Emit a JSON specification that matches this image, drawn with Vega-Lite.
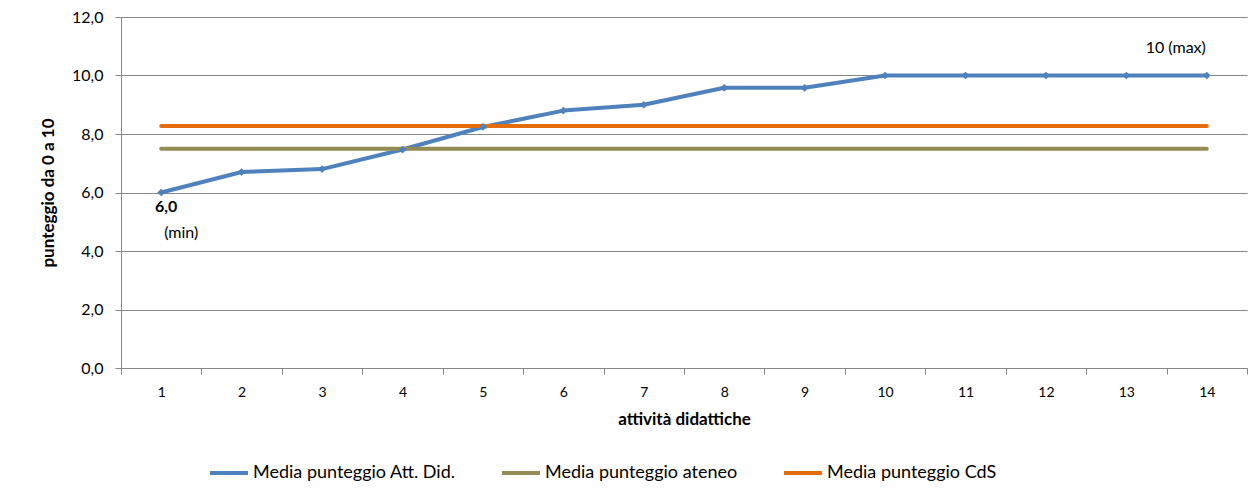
{
  "$schema": "https://vega.github.io/schema/vega-lite/v6.json",
  "width": 1126,
  "height": 351,
  "autosize": "none",
  "padding": {"left": 121, "top": 17, "right": 4, "bottom": 136},
  "background": "white",
  "config": {
    "font": "Lato",
    "view": {"stroke": null},
    "axis": {"labelFont": "Lato", "titleFont": "Lato", "labelColor": "#000000", "titleColor": "#000000"}
  },
  "datasets": {
    "series": [
      {"cat": 1, "serie": "Media punteggio Att. Did.", "value": 6.0},
      {"cat": 2, "serie": "Media punteggio Att. Did.", "value": 6.7},
      {"cat": 3, "serie": "Media punteggio Att. Did.", "value": 6.8},
      {"cat": 4, "serie": "Media punteggio Att. Did.", "value": 7.47},
      {"cat": 5, "serie": "Media punteggio Att. Did.", "value": 8.24},
      {"cat": 6, "serie": "Media punteggio Att. Did.", "value": 8.8},
      {"cat": 7, "serie": "Media punteggio Att. Did.", "value": 9.0},
      {"cat": 8, "serie": "Media punteggio Att. Did.", "value": 9.58},
      {"cat": 9, "serie": "Media punteggio Att. Did.", "value": 9.58},
      {"cat": 10, "serie": "Media punteggio Att. Did.", "value": 10.0},
      {"cat": 11, "serie": "Media punteggio Att. Did.", "value": 10.0},
      {"cat": 12, "serie": "Media punteggio Att. Did.", "value": 10.0},
      {"cat": 13, "serie": "Media punteggio Att. Did.", "value": 10.0},
      {"cat": 14, "serie": "Media punteggio Att. Did.", "value": 10.0},
      {"cat": 1, "serie": "Media punteggio ateneo", "value": 7.5},
      {"cat": 2, "serie": "Media punteggio ateneo", "value": 7.5},
      {"cat": 3, "serie": "Media punteggio ateneo", "value": 7.5},
      {"cat": 4, "serie": "Media punteggio ateneo", "value": 7.5},
      {"cat": 5, "serie": "Media punteggio ateneo", "value": 7.5},
      {"cat": 6, "serie": "Media punteggio ateneo", "value": 7.5},
      {"cat": 7, "serie": "Media punteggio ateneo", "value": 7.5},
      {"cat": 8, "serie": "Media punteggio ateneo", "value": 7.5},
      {"cat": 9, "serie": "Media punteggio ateneo", "value": 7.5},
      {"cat": 10, "serie": "Media punteggio ateneo", "value": 7.5},
      {"cat": 11, "serie": "Media punteggio ateneo", "value": 7.5},
      {"cat": 12, "serie": "Media punteggio ateneo", "value": 7.5},
      {"cat": 13, "serie": "Media punteggio ateneo", "value": 7.5},
      {"cat": 14, "serie": "Media punteggio ateneo", "value": 7.5},
      {"cat": 1, "serie": "Media punteggio CdS", "value": 8.27},
      {"cat": 2, "serie": "Media punteggio CdS", "value": 8.27},
      {"cat": 3, "serie": "Media punteggio CdS", "value": 8.27},
      {"cat": 4, "serie": "Media punteggio CdS", "value": 8.27},
      {"cat": 5, "serie": "Media punteggio CdS", "value": 8.27},
      {"cat": 6, "serie": "Media punteggio CdS", "value": 8.27},
      {"cat": 7, "serie": "Media punteggio CdS", "value": 8.27},
      {"cat": 8, "serie": "Media punteggio CdS", "value": 8.27},
      {"cat": 9, "serie": "Media punteggio CdS", "value": 8.27},
      {"cat": 10, "serie": "Media punteggio CdS", "value": 8.27},
      {"cat": 11, "serie": "Media punteggio CdS", "value": 8.27},
      {"cat": 12, "serie": "Media punteggio CdS", "value": 8.27},
      {"cat": 13, "serie": "Media punteggio CdS", "value": 8.27},
      {"cat": 14, "serie": "Media punteggio CdS", "value": 8.27}
    ],
    "notes": [
      {"cat": 1, "value": 6.0, "label": "6,0", "kind": "minval"},
      {"cat": 1, "value": 6.0, "label": "(min)", "kind": "min"},
      {"cat": 14, "value": 10.0, "label": "10 (max)", "kind": "max"}
    ]
  },
  "encoding": {
    "x": {
      "field": "cat",
      "type": "ordinal",
      "scale": {"domain": [1,2,3,4,5,6,7,8,9,10,11,12,13,14], "paddingInner": 0, "paddingOuter": 0},
      "axis": {
        "title": "attività didattiche",
        "titleFontSize": 17,
        "titleFontWeight": "bold",
        "titlePadding": 12,
        "labelAngle": 0,
        "labelFontSize": 14,
        "labelPadding": 11,
        "tickBand": "extent",
        "tickSize": 6,
        "tickColor": "#868686",
        "domainColor": "#868686",
        "grid": false
      }
    },
    "y": {
      "field": "value",
      "type": "quantitative",
      "scale": {"domain": [0, 12], "nice": false, "zero": true},
      "axis": {
        "title": "punteggio da 0 a 10",
        "titleFontSize": 17,
        "titleFontWeight": "bold",
        "titlePadding": 14,
        "values": [0, 2, 4, 6, 8, 10, 12],
        "labelExpr": "replace(format(datum.value, '.1f'), '.', ',')",
        "labelFontSize": 16,
        "labelPadding": 12,
        "tickSize": 6,
        "tickColor": "#868686",
        "domainColor": "#868686",
        "gridColor": "#868686",
        "gridWidth": 1
      }
    }
  },
  "layer": [
    {
      "data": {"name": "series"},
      "mark": {"type": "line", "strokeWidth": 4, "strokeCap": "round", "strokeJoin": "round"},
      "encoding": {
        "color": {
          "field": "serie",
          "type": "nominal",
          "scale": {
            "domain": ["Media punteggio Att. Did.", "Media punteggio ateneo", "Media punteggio CdS"],
            "range": ["#4F81BD", "#948A54", "#E46C0A"]
          },
          "legend": {
            "title": null,
            "orient": "none",
            "legendX": 87,
            "legendY": 435,
            "direction": "horizontal",
            "symbolType": "stroke",
            "symbolSize": 1444,
            "symbolStrokeWidth": 4,
            "labelFontSize": 18,
            "labelFont": "Lato",
            "labelColor": "#000000",
            "labelOffset": 3,
            "columnPadding": 38,
            "labelLimit": 400
          }
        }
      }
    },
    {
      "data": {"name": "series"},
      "transform": [{"filter": "datum.serie === 'Media punteggio Att. Did.'"}],
      "mark": {"type": "point", "shape": "diamond", "filled": true, "size": 60, "color": "#4F81BD", "opacity": 1},
      "encoding": {}
    },
    {
      "data": {"name": "notes"},
      "transform": [{"filter": "datum.kind === 'minval'"}],
      "mark": {"type": "text", "fontWeight": "bold", "fontSize": 16, "dx": 5, "dy": 14, "color": "#000000"},
      "encoding": {"text": {"field": "label"}}
    },
    {
      "data": {"name": "notes"},
      "transform": [{"filter": "datum.kind === 'min'"}],
      "mark": {"type": "text", "fontSize": 16, "dx": 20, "dy": 40, "color": "#000000"},
      "encoding": {"text": {"field": "label"}}
    },
    {
      "data": {"name": "notes"},
      "transform": [{"filter": "datum.kind === 'max'"}],
      "mark": {"type": "text", "fontSize": 16, "dx": -31, "dy": -28, "color": "#000000"},
      "encoding": {"text": {"field": "label"}}
    }
  ]
}
